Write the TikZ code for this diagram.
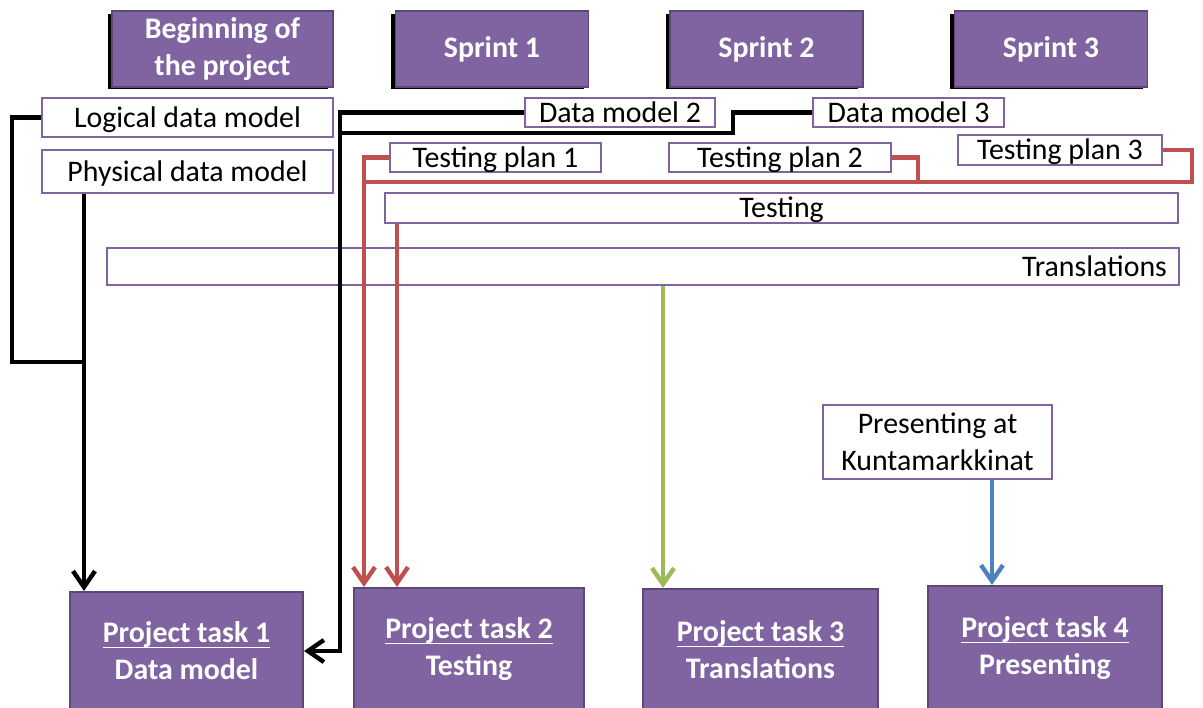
\documentclass[tikz,border=0pt]{standalone}
\usepackage{fontspec}
\setmainfont{Carlito}
\usetikzlibrary{arrows.meta,shadows}
\definecolor{plum}{RGB}{128,100,162}
\definecolor{plumdark}{RGB}{93,71,120}
\definecolor{brick}{RGB}{192,80,77}
\definecolor{leaf}{RGB}{155,187,89}
\definecolor{steel}{RGB}{79,129,189}
\newcommand{\tasktitle}[1]{\underline{\raisebox{0pt}[\height][1.2pt]{#1}}}
\tikzset{
  >={Straight Barb[length=3.2mm,width=4.4mm]},
  phase/.style={fill=plum,draw=plumdark,line width=1pt,text=white,
    font=\fontsize{17}{21}\selectfont\bfseries,align=center,
    minimum width=#1,minimum height=1.52cm,inner sep=0pt,
    general shadow={fill=black,shadow xshift=-0.09cm,shadow yshift=-0.05cm}},
  phase/.default=3.86cm,
  slot/.style={draw=plum,line width=1.5pt,fill=white,
    font=\fontsize{17}{21}\selectfont,minimum width=#1,inner sep=0pt},
  entry/.style={slot=#1,text height=13pt,text depth=2pt},
  task/.style={fill=plum,draw=plumdark,line width=1.2pt,text=white,
    font=\fontsize{17}{21}\selectfont\bfseries,align=center,
    minimum width=#1,inner sep=0pt},
  link/.style={draw=#1,line width=2.5pt},
  link/.default=black,
}

\begin{document}
\begin{tikzpicture}[x=0.02cm,y=-0.02cm]
  \useasboundingbox (0,0) rectangle (1203,707);
  % phases
  \node[phase=4.42cm] (start) at (222.5,49) {Beginning of\\the project};
  \foreach \n/\x in {1/492,2/766.5,3/1051}
    \node[phase] (sprint\n) at (\x,49) {Sprint \n};
  % deliverables
  \node[entry=5.82cm,minimum height=0.78cm] (ldm) at (187.5,117.5) {Logical data model};
  \node[entry=5.82cm,minimum height=0.86cm] (pdm) at (187.5,171.5) {Physical data model};
  \node[entry=3.8cm,minimum height=0.58cm] (dm2) at (620,112.5) {Data model 2};
  \node[entry=3.82cm,minimum height=0.58cm] (dm3) at (908.5,112.5) {Data model 3};
  \node[entry=4.22cm,minimum height=0.58cm] (tp1) at (495.5,157.5) {Testing plan 1};
  \node[entry=4.44cm,minimum height=0.58cm] (tp2) at (780,157.5) {Testing plan 2};
  \node[entry=4.08cm,minimum height=0.6cm] (tp3) at (1060,150) {Testing plan 3};
  \node[entry=15.86cm,minimum height=0.6cm] (testing) at (781.5,208) {Testing};
  \node[entry=21.44cm,minimum height=0.74cm,text width=20.96cm,align=right] (transl) at (643,266.5) {Translations};
  \node[slot=4.58cm,minimum height=1.48cm,align=center] (present) at (937.5,442) {Presenting at\\Kuntamarkkinat};
  % project tasks
  \node[task=4.66cm,minimum height=2.36cm] (pt1) at (186.5,651) {\tasktitle{Project task 1}\\Data model};
  \node[task=4.6cm,minimum height=2.44cm] (pt2) at (469,649) {\tasktitle{Project task 2}\\Testing};
  \node[task=4.7cm,minimum height=2.42cm] (pt3) at (760.5,649.5) {\tasktitle{Project task 3}\\Translations};
  \node[task=4.68cm,minimum height=2.48cm] (pt4) at (1045,648) {\tasktitle{Project task 4}\\Presenting};
  % connectors
  \coordinate (ldmbend) at (12,362);
  \coordinate (dmjoin) at (84,362);
  \coordinate (dmbus) at (340,651);
  \coordinate (dm3bend) at (733,133);
  \coordinate (tpbus) at (364,182);
  \coordinate (tp2bend) at (918,182);
  \coordinate (tp3bend) at (1192,182);
  \coordinate (tdrop) at (397,0);
  \coordinate (trdrop) at (663,0);
  \coordinate (prdrop) at (992,0);
  \draw[link] (ldm.west) -| (ldmbend) -- (dmjoin);
  \draw[link,->] (pdm.south -| dmjoin) -- (pt1.north -| dmjoin);
  \draw[link,->] (dm2.west) -| (dmbus) -- (pt1.east);
  \draw[link] (dm3.west) -| (dm3bend) -- (dm3bend -| dmbus);
  \draw[link=brick,->] (tp1.west) -| (pt2.north -| tpbus);
  \draw[link=brick] (tp2.east) -| (tp2bend) -- (tpbus);
  \draw[link=brick] (tp3.east) -| (tp3bend) -- (tp2bend);
  \draw[link=brick,->] (testing.south -| tdrop) -- (pt2.north -| tdrop);
  \draw[link=leaf,->] (transl.south -| trdrop) -- (pt3.north -| trdrop);
  \draw[link=steel,->] (present.south -| prdrop) -- (pt4.north -| prdrop);
\end{tikzpicture}
\end{document}
